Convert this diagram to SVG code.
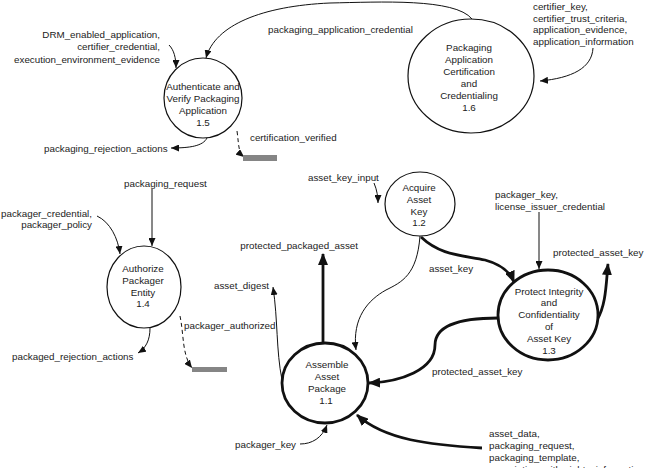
<svg xmlns="http://www.w3.org/2000/svg" width="646" height="468" viewBox="0 0 646 468">
  <defs>
    <marker id="arrow" markerUnits="userSpaceOnUse" markerWidth="8" markerHeight="7" viewBox="0 0 8 7" refX="8" refY="3.5" orient="auto">
      <path d="M0,0 L8,3.5 L0,7 z" fill="#111"/>
    </marker>
    <marker id="arrow-bold" markerUnits="userSpaceOnUse" markerWidth="12" markerHeight="10" viewBox="0 0 12 10" refX="11" refY="5" orient="auto">
      <path d="M0,0 L12,5 L0,10 z" fill="#111"/>
    </marker>
  </defs>
  <style>
    text { font-family: "Liberation Sans", Arial, sans-serif; font-size: 9.8px; fill: #222; }
    .node text { text-anchor: middle; }
    .proc { fill: #fff; stroke: #111; stroke-width: 1.2; }
    .proc-bold { fill: #fff; stroke: #111; stroke-width: 2.8; }
    .flow { fill: none; stroke: #111; stroke-width: 1; marker-end: url(#arrow); }
    .flow-dash { fill: none; stroke: #111; stroke-width: 1; stroke-dasharray: 4 3; marker-end: url(#arrow); }
    .flow-bold { fill: none; stroke: #111; stroke-width: 2.8; marker-end: url(#arrow-bold); }
    .store { fill: #858585; }
    .end { text-anchor: end; }
  </style>

  <rect width="646" height="468" fill="#fff"/>

  <!-- data flows -->
  <g id="connectors">
    <path class="flow" d="M472,19 C455,-2 380,2 330,3 C262,6 215,25 206,58"/>
    <path class="flow" d="M593,48 C592,68 572,78 540,81"/>
    <path class="flow" d="M169,45 C174,50 176,58 176,68"/>
    <path class="flow" d="M207,138 C203,146 190,148 171,148"/>
    <path class="flow-dash" d="M237,131 C239,145 238,152 244,157"/>
    <path class="flow" d="M152,189 L152,246"/>
    <path class="flow" d="M97,216 C110,222 118,238 120,254"/>
    <path class="flow" d="M150,328 C150,340 146,348 138,353"/>
    <path class="flow-dash" d="M180,316 C184,335 182,355 192,368"/>
    <path class="flow" d="M282,380 C276,350 278,320 273,287"/>
    <path class="flow" d="M374,183 C377,190 378,197 378,203"/>
    <path class="flow" d="M420,236 C417,275 402,282 386,290 C368,300 352,318 356,350"/>
    <path class="flow" d="M539,212 L539,269"/>
    <path class="flow" d="M300,444 C312,444 322,438 327,425"/>
    <path class="flow-bold" d="M323,343 L323,254"/>
    <path class="flow-bold" d="M421,237 C440,255 460,255 485,260 C500,264 510,272 514,282"/>
    <path class="flow-bold" d="M597,320 C606,305 606,285 608,264"/>
    <path class="flow-bold" d="M498,318 C460,318 435,325 435,345 C435,370 400,382 369,383"/>
    <path class="flow-bold" d="M482,448 C430,445 385,440 357,415"/>
  </g>

  <!-- data stores -->
  <rect class="store" x="243" y="155" width="34" height="6"/>
  <rect class="store" x="192" y="367" width="35" height="5"/>

  <!-- processes -->
  <g id="p1_5" class="node">
    <ellipse class="proc" cx="203" cy="98" rx="39" ry="40"/>
    <text x="203" y="89.5">Authenticate and</text>
    <text x="203" y="101.5">Verify Packaging</text>
    <text x="203" y="113.5">Application</text>
    <text x="203" y="125.5">1.5</text>
  </g>
  <g id="p1_6" class="node">
    <ellipse class="proc" cx="471" cy="76" rx="63" ry="57"/>
    <text x="469" y="51">Packaging</text>
    <text x="469" y="63">Application</text>
    <text x="469" y="75">Certification</text>
    <text x="469" y="87">and</text>
    <text x="469" y="99">Credentialing</text>
    <text x="469" y="111">1.6</text>
  </g>
  <g id="p1_4" class="node">
    <ellipse class="proc" cx="144" cy="287" rx="37" ry="41"/>
    <text x="143" y="271.5">Authorize</text>
    <text x="143" y="283.5">Packager</text>
    <text x="143" y="295.5">Entity</text>
    <text x="143" y="307">1.4</text>
  </g>
  <g id="p1_2" class="node">
    <ellipse class="proc" cx="420" cy="204" rx="35" ry="32"/>
    <text x="419" y="190.5">Acquire</text>
    <text x="419" y="202.5">Asset</text>
    <text x="419" y="214.5">Key</text>
    <text x="419" y="226">1.2</text>
  </g>
  <g id="p1_3" class="node">
    <ellipse class="proc-bold" cx="548" cy="315" rx="50" ry="45"/>
    <text x="549" y="294.5">Protect Integrity</text>
    <text x="549" y="306">and</text>
    <text x="549" y="318">Confidentiality</text>
    <text x="549" y="330">of</text>
    <text x="549" y="342">Asset Key</text>
    <text x="549" y="353.5">1.3</text>
  </g>
  <g id="p1_1" class="node">
    <ellipse class="proc-bold" cx="325" cy="383" rx="43" ry="40"/>
    <text x="327" y="367.5">Assemble</text>
    <text x="327" y="379.5">Asset</text>
    <text x="327" y="391.5">Package</text>
    <text x="326" y="403.5">1.1</text>
  </g>

  <!-- flow labels -->
  <g id="labels">
    <text class="end" x="160" y="37.5">DRM_enabled_application,</text>
    <text class="end" x="160" y="50">certifier_credential,</text>
    <text class="end" x="160" y="62.5">execution_environment_evidence</text>
    <text x="268" y="32.5">packaging_application_credential</text>
    <text x="533" y="9.5">certifier_key,</text>
    <text x="533" y="21.5">certifier_trust_criteria,</text>
    <text x="533" y="33">application_evidence,</text>
    <text x="533" y="44.5">application_information</text>
    <text x="250" y="140.5">certification_verified</text>
    <text x="44" y="151.5">packaging_rejection_actions</text>
    <text x="124" y="186.5">packaging_request</text>
    <text class="end" x="92" y="216.5">packager_credential,</text>
    <text class="end" x="92" y="227.5">packager_policy</text>
    <text x="12" y="359.5">packaged_rejection_actions</text>
    <text x="184" y="328.5">packager_authorized</text>
    <text x="214" y="288.5">asset_digest</text>
    <text class="end" x="358" y="248.5">protected_packaged_asset</text>
    <text x="308" y="180.5">asset_key_input</text>
    <text x="429" y="271.5">asset_key</text>
    <text x="495" y="197.5">packager_key,</text>
    <text x="495" y="209.5">license_issuer_credential</text>
    <text x="553" y="255.5">protected_asset_key</text>
    <text x="432" y="374.5">protected_asset_key</text>
    <text x="235" y="447.5">packager_key</text>
    <text x="489" y="436.5">asset_data,</text>
    <text x="489" y="448.5">packaging_request,</text>
    <text x="489" y="460.5">packaging_template,</text>
    <text x="489" y="472.5">association_with_rights_information</text>
  </g>
</svg>
